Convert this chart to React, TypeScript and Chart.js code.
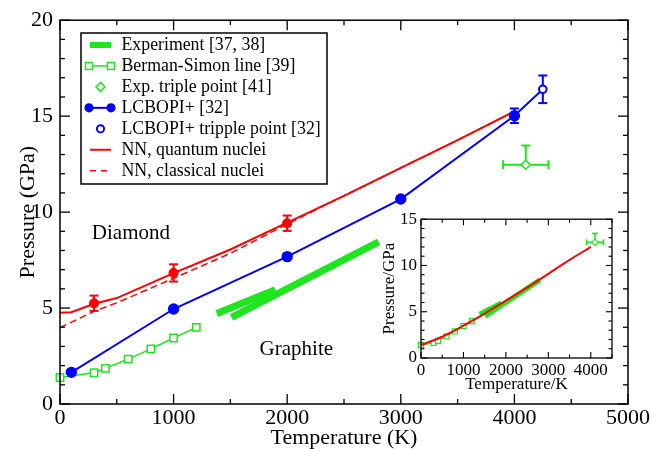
import { useEffect, useRef } from 'react';
import { Chart, registerables } from 'chart.js';

Chart.register(...registerables);

const FONT = '"Liberation Serif", "Times New Roman", Times, serif';
const GREEN = '#1ee61e';
const RED = '#ff0000';
const BLUE = '#0000ff';

// ---------- main chart data ----------
const xTicksMain = [0, 1000, 2000, 3000, 4000, 5000];
const yTicksMain = [0, 5, 10, 15, 20];

const expSeg1T = [1380, 1895];
const expSeg1P = [4.72, 5.95];
const expSeg2T = [1510, 2805];
const expSeg2P = [4.52, 8.45];

const bermanT = [0, 300, 400, 600, 800, 1000, 1200];
const bermanP = [1.38, 1.63, 1.86, 2.34, 2.87, 3.44, 3.99];

const nnQuantT = [0, 100, 300, 500, 1000, 1500, 2000, 2500, 3000, 3500, 4000];
const nnQuantP = [4.75, 4.78, 5.22, 5.52, 6.82, 8.05, 9.45, 10.85, 12.3, 13.75, 15.25];

const nnClassT = [0, 300, 500, 1000, 1500, 2000, 2500, 3000, 3500, 4000];
const nnClassP = [3.98, 4.83, 5.27, 6.55, 7.85, 9.38, 10.85, 12.3, 13.75, 15.25];

const nnPointT = [300, 1000, 2000];
const nnPointP = [5.25, 6.83, 9.42];
const nnPointErr = [0.4, 0.45, 0.4];

const lcbopT = [100, 1000, 2000, 3000, 4000, 4250];
const lcbopP = [1.65, 4.95, 7.68, 10.68, 15.02, 16.4];
const lcbopErr = [0, 0, 0, 0, 0.38, 0];

const lcbopTripleT = [4250];
const lcbopTripleP = [16.4];
const lcbopTripleErr = [0.72];

const expTripleT = [4100];
const expTripleP = [12.47];
const expTripleTErr = [200];
const expTriplePErrUp = [1.0];

const legendLabels = [
  'Experiment [37, 38]',
  'Berman-Simon line [39]',
  'Exp. triple point [41]',
  'LCBOPI+ [32]',
  'LCBOPI+ tripple point [32]',
  'NN, quantum nuclei',
  'NN, classical nuclei',
];
const legendSymbols = ['thick', 'lineSquare', 'diamond', 'lineCircle', 'openCircle', 'line', 'dash'];
const legendColors = [GREEN, GREEN, GREEN, BLUE, BLUE, RED, RED];

const annotationTexts = ['Diamond', 'Graphite'];
const annotationT = [280, 1757];
const annotationP = [8.62, 2.53];

// ---------- inset data ----------
const xTicksInset = [0, 1000, 2000, 3000, 4000];
const yTicksInset = [0, 5, 10, 15];

const insetNNT = [0, 500, 1000, 1500, 2000, 2500, 3000, 3500, 4000];
const insetNNP = [1.4, 2.3, 3.5, 4.8, 6.2, 7.6, 9.1, 10.6, 12.0];

const insetTripleT = [4100];
const insetTripleP = [12.5];
const insetTripleTErr = [200];
const insetTriplePErrUp = [0.96];

const xy = (t: number[], p: number[]) => t.map((v, i) => ({ x: v, y: p[i] }));

const errorBarPlugin = {
  id: 'errorBars',
  beforeDatasetsDraw(chart: any) {
    const { ctx } = chart;
    const xs = chart.scales.x;
    const ys = chart.scales.y;
    chart.data.datasets.forEach((ds: any) => {
      const eb = ds.errorBars;
      if (!eb) return;
      ctx.save();
      ctx.strokeStyle = eb.color;
      ctx.lineWidth = eb.width;
      const c = eb.cap / 2;
      const seg = (a: number, b: number, cc: number, d: number) => {
        ctx.beginPath();
        ctx.moveTo(a, b);
        ctx.lineTo(cc, d);
        ctx.stroke();
      };
      ds.data.forEach((p: any, i: number) => {
        const px = xs.getPixelForValue(p.x);
        const py = ys.getPixelForValue(p.y);
        const ym = eb.yMinus ? eb.yMinus[i] || 0 : 0;
        const yp = eb.yPlus ? eb.yPlus[i] || 0 : 0;
        const xm = eb.xMinus ? eb.xMinus[i] || 0 : 0;
        const xp = eb.xPlus ? eb.xPlus[i] || 0 : 0;
        if (ym || yp) {
          const y1 = ys.getPixelForValue(p.y - ym);
          const y2 = ys.getPixelForValue(p.y + yp);
          seg(px, y1, px, y2);
          if (yp) seg(px - c, y2, px + c, y2);
          if (ym) seg(px - c, y1, px + c, y1);
        }
        if (xm || xp) {
          const x1 = xs.getPixelForValue(p.x - xm);
          const x2 = xs.getPixelForValue(p.x + xp);
          seg(x1, py, x2, py);
          if (xp) seg(x2, py - c, x2, py + c);
          if (xm) seg(x1, py - c, x1, py + c);
        }
      });
      ctx.restore();
    });
  },
};

const framePlugin = {
  id: 'frame',
  afterDraw(chart: any, _args: any, opts: any) {
    const { ctx } = chart;
    const { left, right, top, bottom } = chart.chartArea;
    const xs = chart.scales.x;
    const ys = chart.scales.y;
    ctx.save();
    ctx.strokeStyle = '#000';
    ctx.lineWidth = opts.lineWidth;
    ctx.strokeRect(left, top, right - left, bottom - top);
    ctx.lineWidth = opts.tickWidth;
    const seg = (a: number, b: number, c: number, d: number) => {
      ctx.beginPath();
      ctx.moveTo(a, b);
      ctx.lineTo(c, d);
      ctx.stroke();
    };
    const nx = Math.round((xs.max - xs.min) / opts.xMinor);
    for (let k = 0; k <= nx; k++) {
      const v = xs.min + k * opts.xMinor;
      const r = v / opts.xMajor;
      const len = Math.abs(r - Math.round(r)) < 1e-6 ? opts.major : opts.minor;
      const px = xs.getPixelForValue(v);
      seg(px, bottom, px, bottom - len);
      seg(px, top, px, top + len);
    }
    const ny = Math.round((ys.max - ys.min) / opts.yMinor);
    for (let k = 0; k <= ny; k++) {
      const v = ys.min + k * opts.yMinor;
      const r = v / opts.yMajor;
      const len = Math.abs(r - Math.round(r)) < 1e-6 ? opts.major : opts.minor;
      const py = ys.getPixelForValue(v);
      seg(left, py, left + len, py);
      seg(right, py, right - len, py);
    }
    ctx.restore();
  },
};

const legendPlugin = {
  id: 'boxLegend',
  afterDraw(chart: any) {
    const { ctx } = chart;
    const bx = 81, by = 33, bw = 246, bh = 151;
    ctx.save();
    ctx.fillStyle = '#fff';
    ctx.fillRect(bx, by, bw, bh);
    ctx.strokeStyle = '#000';
    ctx.lineWidth = 1.5;
    ctx.strokeRect(bx, by, bw, bh);
    const x1 = 89, x2 = 111, xm = 100.5;
    legendLabels.forEach((label, i) => {
      const yc = 45 + i * 20.95;
      const col = legendColors[i];
      const sym = legendSymbols[i];
      ctx.strokeStyle = col;
      ctx.fillStyle = col;
      ctx.setLineDash([]);
      if (sym === 'thick') {
        ctx.lineWidth = 6;
        ctx.beginPath(); ctx.moveTo(x1 + 1, yc); ctx.lineTo(x2, yc); ctx.stroke();
      } else if (sym === 'lineSquare') {
        ctx.lineWidth = 1.5;
        ctx.beginPath(); ctx.moveTo(x1, yc); ctx.lineTo(x2, yc); ctx.stroke();
        [x1, x2].forEach((x) => {
          ctx.fillStyle = '#fff';
          ctx.fillRect(x - 3.5, yc - 3.5, 7, 7);
          ctx.strokeRect(x - 3.5, yc - 3.5, 7, 7);
        });
      } else if (sym === 'diamond') {
        ctx.lineWidth = 1.5;
        ctx.beginPath();
        ctx.moveTo(xm, yc - 4.5); ctx.lineTo(xm + 4.5, yc); ctx.lineTo(xm, yc + 4.5); ctx.lineTo(xm - 4.5, yc);
        ctx.closePath(); ctx.stroke();
      } else if (sym === 'lineCircle') {
        ctx.lineWidth = 2;
        ctx.beginPath(); ctx.moveTo(x1, yc); ctx.lineTo(x2, yc); ctx.stroke();
        [x1, x2].forEach((x) => {
          ctx.beginPath(); ctx.arc(x, yc, 4.6, 0, Math.PI * 2); ctx.fill();
        });
      } else if (sym === 'openCircle') {
        ctx.lineWidth = 2;
        ctx.beginPath(); ctx.arc(xm, yc, 3.6, 0, Math.PI * 2); ctx.stroke();
      } else if (sym === 'line') {
        ctx.lineWidth = 2;
        ctx.beginPath(); ctx.moveTo(x1 + 1, yc); ctx.lineTo(x2, yc); ctx.stroke();
      } else if (sym === 'dash') {
        ctx.lineWidth = 1.5;
        ctx.setLineDash([6, 5]);
        ctx.beginPath(); ctx.moveTo(x1 + 1, yc); ctx.lineTo(x2 + 1, yc); ctx.stroke();
        ctx.setLineDash([]);
      }
      ctx.fillStyle = '#000';
      ctx.font = `17.8px ${FONT}`;
      ctx.textAlign = 'left';
      ctx.textBaseline = 'alphabetic';
      ctx.fillText(label, 121.5, yc + 5.2);
    });
    // region annotations
    const xs = chart.scales.x;
    const ys = chart.scales.y;
    ctx.font = `21px ${FONT}`;
    annotationTexts.forEach((t, i) => {
      ctx.fillText(t, xs.getPixelForValue(annotationT[i]), ys.getPixelForValue(annotationP[i]));
    });
    ctx.restore();
  },
};

function withOrder(list: any[]) {
  const n = list.length;
  return list.map((d, i) => ({ clip: false, ...d, order: n - i }));
}

function axis(
  min: number, max: number, ticks: number[], fitSize: number, isX: boolean,
  fontSize: number, tickPad: number, title: string, titlePad: any
) {
  return {
    type: 'linear',
    min,
    max,
    afterBuildTicks: (s: any) => {
      s.ticks = ticks.map((v) => ({ value: v }));
    },
    afterFit: (s: any) => {
      if (isX) s.height = fitSize;
      else s.width = fitSize;
    },
    grid: { display: false, drawTicks: false, tickLength: 0 },
    border: { display: false },
    ticks: {
      font: { family: FONT, size: fontSize },
      color: '#000',
      padding: tickPad,
      maxRotation: 0,
      autoSkip: false,
      callback: (v: any) => String(v),
    },
    title: {
      display: true,
      text: title,
      color: '#000',
      font: { family: FONT, size: fontSize, lineHeight: 1 },
      padding: titlePad,
    },
  };
}

export default function App() {
  const mainRef = useRef<HTMLCanvasElement | null>(null);
  const insetRef = useRef<HTMLCanvasElement | null>(null);

  useEffect(() => {
    if (!mainRef.current || !insetRef.current) return;

    const mainDatasets = withOrder([
      { data: xy(expSeg1T, expSeg1P), borderColor: GREEN, borderWidth: 7, borderCapStyle: 'butt', pointRadius: 0 },
      { data: xy(expSeg2T, expSeg2P), borderColor: GREEN, borderWidth: 7, borderCapStyle: 'butt', pointRadius: 0 },
      {
        data: xy(bermanT, bermanP), borderColor: GREEN, borderWidth: 1.5, pointStyle: 'rect', pointRadius: 5.2,
        pointBorderWidth: 1.5, pointBorderColor: GREEN, pointBackgroundColor: '#fff',
      },
      { data: xy(nnClassT, nnClassP), borderColor: RED, borderWidth: 1.5, borderDash: [7, 4], pointRadius: 0 },
      { data: xy(nnQuantT, nnQuantP), borderColor: RED, borderWidth: 2, pointRadius: 0 },
      {
        data: xy(nnPointT, nnPointP), showLine: false, pointRadius: 4.6, pointBackgroundColor: RED,
        pointBorderColor: RED, borderColor: RED,
        errorBars: { yMinus: nnPointErr, yPlus: nnPointErr, color: RED, width: 2, cap: 9 },
      },
      {
        data: xy(lcbopT, lcbopP), borderColor: BLUE, borderWidth: 2,
        pointRadius: lcbopT.map((_, i) => (i === lcbopT.length - 1 ? 0 : 4.7)),
        pointBackgroundColor: BLUE, pointBorderColor: BLUE,
        errorBars: { yMinus: lcbopErr, yPlus: lcbopErr, color: BLUE, width: 2, cap: 9 },
      },
      {
        data: xy(lcbopTripleT, lcbopTripleP), showLine: false, pointRadius: 3.8, pointBorderWidth: 2,
        pointBackgroundColor: '#fff', pointBorderColor: BLUE, borderColor: BLUE,
        errorBars: { yMinus: lcbopTripleErr, yPlus: lcbopTripleErr, color: BLUE, width: 2, cap: 9 },
      },
      {
        data: xy(expTripleT, expTripleP), showLine: false, pointStyle: 'rectRot', pointRadius: 4.6,
        pointBorderWidth: 1.5, pointBackgroundColor: '#fff', pointBorderColor: GREEN, borderColor: GREEN,
        errorBars: {
          yPlus: expTriplePErrUp, xMinus: expTripleTErr, xPlus: expTripleTErr, color: GREEN, width: 2, cap: 9,
        },
      },
    ]);

    const main = new Chart(mainRef.current, {
      type: 'line',
      data: { datasets: mainDatasets as any },
      options: {
        animation: false,
        responsive: false,
        maintainAspectRatio: false,
        devicePixelRatio: 1,
        layout: { padding: { top: 16, right: 24, bottom: 0, left: 0 } },
        elements: { line: { tension: 0 } },
        plugins: {
          legend: { display: false },
          tooltip: { enabled: false },
          frame: { lineWidth: 1.5, tickWidth: 1.3, xMajor: 1000, xMinor: 500, yMajor: 5, yMinor: 1, major: 10, minor: 5 },
        } as any,
        scales: {
          x: axis(0, 5000, xTicksMain, 45, true, 22, 1, 'Temperature (K)', { top: 0, bottom: 0 }),
          y: axis(0, 20, yTicksMain, 60, false, 22, 7, 'Pressure (GPa)', { top: 17, bottom: 0 }),
        } as any,
      },
      plugins: [errorBarPlugin, framePlugin, legendPlugin],
    });

    const insetDatasets = withOrder([
      { data: xy(expSeg1T, expSeg1P), borderColor: GREEN, borderWidth: 5, borderCapStyle: 'butt', pointRadius: 0 },
      { data: xy(expSeg2T, expSeg2P), borderColor: GREEN, borderWidth: 5, borderCapStyle: 'butt', pointRadius: 0 },
      {
        data: xy(bermanT, bermanP), borderColor: GREEN, borderWidth: 1.2, pointStyle: 'rect', pointRadius: 3.6,
        pointBorderWidth: 1.2, pointBorderColor: GREEN, pointBackgroundColor: '#fff',
      },
      { data: xy(insetNNT, insetNNP), borderColor: RED, borderWidth: 2, pointRadius: 0, tension: 0.3 },
      {
        data: xy(insetTripleT, insetTripleP), showLine: false, pointStyle: 'rectRot', pointRadius: 3.3,
        pointBorderWidth: 1.2, pointBackgroundColor: '#fff', pointBorderColor: GREEN, borderColor: GREEN,
        errorBars: {
          yPlus: insetTriplePErrUp, xMinus: insetTripleTErr, xPlus: insetTripleTErr, color: GREEN, width: 1.6, cap: 6,
        },
      },
    ]);

    const inset = new Chart(insetRef.current, {
      type: 'line',
      data: { datasets: insetDatasets as any },
      options: {
        animation: false,
        responsive: false,
        maintainAspectRatio: false,
        devicePixelRatio: 1,
        layout: { padding: { top: 13, right: 8, bottom: 0, left: 0 } },
        elements: { line: { tension: 0 } },
        plugins: {
          legend: { display: false },
          tooltip: { enabled: false },
          frame: { lineWidth: 1.3, tickWidth: 1.1, xMajor: 1000, xMinor: 500, yMajor: 5, yMinor: 1, major: 6, minor: 3.5 },
        } as any,
        scales: {
          x: axis(0, 4500, xTicksInset, 39, true, 17, 2, 'Temperature/K', { top: 0, bottom: 4 }),
          y: axis(0, 15, yTicksInset, 51, false, 17, 4, 'Pressure/GPa', { top: 11, bottom: 0 }),
        } as any,
      },
      plugins: [errorBarPlugin, framePlugin],
    });

    return () => {
      main.destroy();
      inset.destroy();
    };
  }, []);

  return (
    <div style={{ position: 'fixed', left: 0, top: 0, width: 652, height: 449, background: '#fff' }}>
      <canvas ref={mainRef} width={652} height={449} style={{ position: 'absolute', left: 0, top: 0 }} />
      <canvas ref={insetRef} width={250} height={192} style={{ position: 'absolute', left: 370, top: 205 }} />
    </div>
  );
}
